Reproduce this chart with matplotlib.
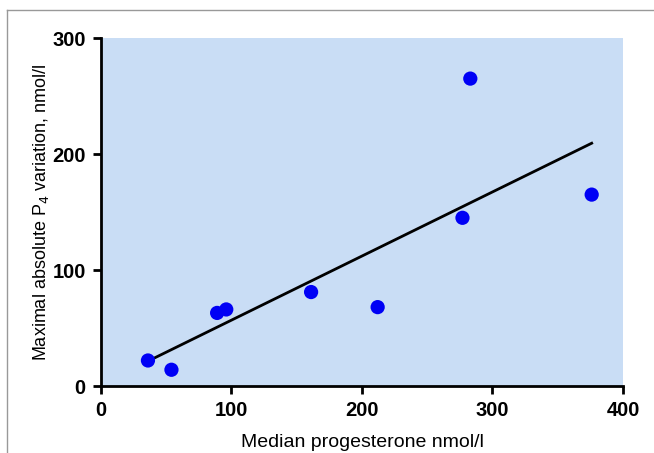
import numpy as np
import matplotlib.pyplot as plt
from matplotlib.lines import Line2D

plt.rcParams['font.family'] = ['Liberation Sans', 'DejaVu Sans']

# median progesterone (nmol/l) vs maximal absolute P4 variation (nmol/l)
median_p4 = np.array([36, 54, 89, 96, 161, 212, 277, 283, 376])
max_var = np.array([22, 14, 63, 66, 81, 68, 145, 265, 165])

xticks = [0, 100, 200, 300, 400]
yticks = [0, 100, 200, 300]

# linear regression line across the data range
slope, icpt = np.polyfit(median_p4, max_var, 1)
fit_x = np.array([median_p4.min() + 4, median_p4.max()])
fit_y = slope * fit_x + icpt

fig = plt.figure(figsize=(6.54, 4.53), dpi=100)
ax = fig.add_axes([0.1544, 0.1479, 0.7982, 0.7682])
ax.set_facecolor('#c9ddf5')

ax.plot(fit_x, fit_y, color='black', lw=2, zorder=2)
ax.scatter(median_p4, max_var, s=105, color='#0000f5', zorder=3, edgecolors='none', clip_on=False)

ax.set_xlim(0, 400)
ax.set_ylim(0, 300)
ax.set_xticks(xticks)
ax.set_yticks(yticks)
for lbl in ax.get_xticklabels() + ax.get_yticklabels():
    lbl.set_fontweight('bold')
ax.tick_params(labelsize=14.5, width=2, length=6, direction='out', pad=5)

for s in ['top', 'right']:
    ax.spines[s].set_visible(False)
for s in ['left', 'bottom']:
    ax.spines[s].set_linewidth(2)

ax.set_xlabel('Median progesterone nmol/l', fontsize=14, labelpad=10)
ax.set_ylabel('Maximal absolute P$_4$ variation, nmol/l', fontsize=13, labelpad=1)

# thin grey frame at the top and left edges
fig.add_artist(Line2D([7/654, 1], [1 - 10/453, 1 - 10/453], color='#999999', lw=1))
fig.add_artist(Line2D([7/654, 7/654], [0, 1 - 10/453], color='#999999', lw=1))

fig.savefig('out.png', dpi=100)
